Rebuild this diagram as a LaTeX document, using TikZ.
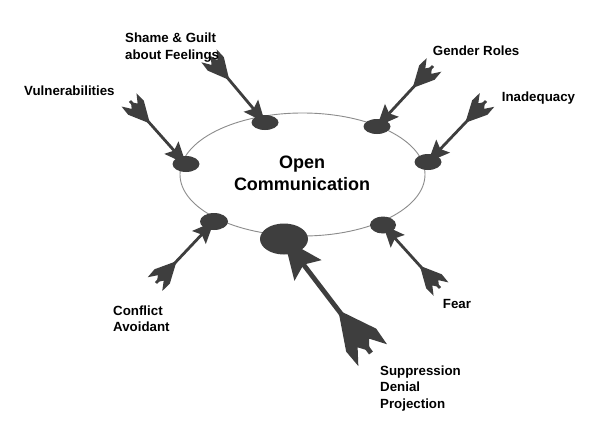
\documentclass[tikz,border=0pt]{standalone}
\usepackage{fontspec}
\setmainfont{Liberation Sans}
\usetikzlibrary{shapes.geometric,calc}
\definecolor{ink}{HTML}{3E3E3E}
\definecolor{ringc}{HTML}{8C8C8C}
\tikzset{
  blob/.style={ellipse, fill=ink, inner sep=0pt},
  lbl/.style={font=\fontsize{13.3}{16.7}\selectfont\bfseries, align=left, anchor=base west, inner sep=0pt},
  dhead/.pic={\fill[ink] (0,0) -- (-22,9.5) -- (-18.5,1.4) -- (-18.5,-1.4) -- (-22,-9.5) -- cycle;},
  fletch/.pic={\fill[ink] (30,0) -- (9,10.5) -- (-1.5,10) -- (7,4) -- (1.5,0) -- (7,-4) -- (-1.5,-10) -- (9,-10.5) -- cycle;},
}
\newcommand\dartto[4]{%
  \draw[ink, line width=#4] (#1) -- (#2.center);
  \path let \p1=($(#2.center)-(#1)$), \n1={atan2(\y1,\x1)} in
     (#2.center) pic[rotate=\n1, scale=#3]{dhead}
     (#1) pic[rotate=\n1, scale=#3]{fletch};
}
\begin{document}
\begin{tikzpicture}[x=1pt,y=-1pt]
\useasboundingbox (0,0) rectangle (600,426);
\fill[white] (0,0) rectangle (600,426);
\node[draw=ringc, line width=0.9pt, ellipse, minimum width=245pt, minimum height=123pt, inner sep=0pt] (ring) at (302.5,174.5) {};
\node[font=\fontsize{18}{22}\selectfont\bfseries, align=center, anchor=base, inner sep=0pt] (center) at (302,190) {Open\\Communication};
% impact blobs
\node[blob, minimum width=27pt, minimum height=15pt] (bShame) at (265,122.5) {};
\node[blob, minimum width=27pt, minimum height=16pt] (bVuln) at (186,164) {};
\node[blob, minimum width=27pt, minimum height=15pt] (bGender) at (377,126.5) {};
\node[blob, minimum width=27pt, minimum height=16pt] (bInad) at (428,162) {};
\node[blob, minimum width=28pt, minimum height=17pt] (bConf) at (214,221.5) {};
\node[blob, minimum width=26pt, minimum height=17pt] (bFear) at (383,225) {};
\node[blob, minimum width=48pt, minimum height=31pt] (bSupp) at (284,239) {};
% arrow tails
\coordinate (tShame) at (210,57);
\coordinate (tVuln) at (130,101);
\coordinate (tGender) at (433,66);
\coordinate (tInad) at (486,101);
\coordinate (tConf) at (156,283);
\coordinate (tFear) at (440,288);
\coordinate (tSupp) at (371,353);
% arrows
\dartto{tShame}{bShame}{1}{2.8pt}
\dartto{tVuln}{bVuln}{1}{2.8pt}
\dartto{tGender}{bGender}{1}{2.8pt}
\dartto{tInad}{bInad}{1}{2.8pt}
\dartto{tConf}{bConf}{1}{2.8pt}
\dartto{tFear}{bFear}{1}{2.8pt}
\dartto{tSupp}{bSupp}{1.8}{4.8pt}
% labels
\node[lbl] (lShame) at (125,59.4) {Shame \& Guilt\\about Feelings};
\node[lbl] (lVuln) at (24,95.5) {Vulnerabilities};
\node[lbl] (lGender) at (432.7,55) {Gender Roles};
\node[lbl] (lInad) at (501.7,101.7) {Inadequacy};
\node[lbl] (lConf) at (113,331.7) {Conflict\\Avoidant};
\node[lbl] (lFear) at (442.7,308.3) {Fear};
\node[lbl] (lSupp) at (380,408.4) {Suppression\\Denial\\Projection};
\end{tikzpicture}
\end{document}
